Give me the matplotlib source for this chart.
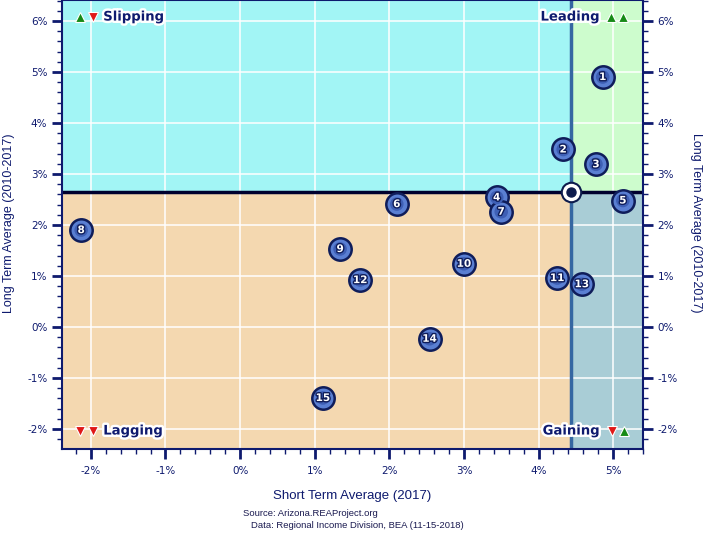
import matplotlib
matplotlib.use("Agg")
import matplotlib.pyplot as plt
import matplotlib.patheffects as pe
from matplotlib.patches import Rectangle
import numpy as np

# county numbers and their growth rates (%)
labels = list(range(1, 16))
short_term = [4.86, 4.33, 4.77, 3.44, 5.13, 2.10, 3.50, -2.13, 1.34, 3.00, 4.25, 1.61, 4.58, 2.54, 1.11]
long_term = [4.90, 3.48, 3.19, 2.54, 2.48, 2.41, 2.26, 1.90, 1.53, 1.24, 0.96, 0.92, 0.84, -0.23, -1.39]

# reference point (state average)
ref_short = 4.43
ref_long = 2.65

x_ticks = [-2, -1, 0, 1, 2, 3, 4, 5]
y_ticks = [-2, -1, 0, 1, 2, 3, 4, 5, 6]

navy = '#0e1a6e'
xmin, xmax = -2.387, 5.40
ymin, ymax = -2.39, 6.41

fig = plt.figure(figsize=(7.03, 5.33), dpi=100)
ax = fig.add_axes([62/703, 84/533, 581/703, 449/533])
ax.set_xlim(xmin, xmax)
ax.set_ylim(ymin, ymax)

# quadrants
ax.add_patch(Rectangle((-10, ref_long), ref_short + 10, 20, color='#a2f5f5', zorder=0))
ax.add_patch(Rectangle((ref_short, ref_long), 20, 20, color='#cdfccd', zorder=0))
ax.add_patch(Rectangle((-10, -10), ref_short + 10, ref_long + 10, color='#f4d8b0', zorder=0))
ax.add_patch(Rectangle((ref_short, -10), 20, ref_long + 10, color='#a9cdd6', zorder=0))

ax.set_xticks(x_ticks)
ax.set_yticks(y_ticks)
ax.set_xticks(np.arange(-2.2, 5.41, 0.2), minor=True)
ax.set_yticks(np.arange(-2.2, 6.41, 0.2), minor=True)
ax.set_xticklabels([f'{v}%' for v in x_ticks])
ax.set_yticklabels([f'{v}%' for v in y_ticks])
ax.grid(True, which='major', color='white', lw=1.1, zorder=1)
ax.set_axisbelow(True)

ax.tick_params(which='major', direction='out', length=7, width=2, color=navy,
               labelcolor=navy, labelsize=7.5, right=True, labelright=True)
ax.tick_params(which='minor', direction='out', length=3.5, width=1, color=navy, right=True)
ax.tick_params(axis='x', pad=5)
for s in ax.spines.values():
    s.set_color(navy)
    s.set_linewidth(1.5)

# dividing lines
ax.axvline(ref_short, color='#3567a2', lw=2.5, zorder=2)
ax.axhline(ref_long, color='#00002e', lw=2.5, zorder=2)
ax.plot([ref_short], [ref_long], 'o', ms=14, mfc='white', mec='#0d1b4c', mew=1.5, zorder=5)
ax.plot([ref_short], [ref_long], 'o', ms=6.5, color='#0d1b4c', zorder=6)

# points
ax.scatter(short_term, long_term, s=260, c='#5a7fd2', edgecolors='#0f1d5a', linewidths=1.8, zorder=7)
ax.scatter(short_term, long_term, s=95, c='#3e5fb5', edgecolors='none', zorder=7)
for n, xv, yv in zip(labels, short_term, long_term):
    ax.text(xv, yv, str(n), ha='center', va='center', color='white', fontsize=7.5,
            fontweight='bold', zorder=8,
            path_effects=[pe.withStroke(linewidth=2, foreground='#0f1d5a')])

# quadrant labels
outline = [pe.withStroke(linewidth=3.5, foreground='white')]
green, red = '#168a16', '#e01818'
def tri(fx, fy, up):
    ax.plot([fx], [fy], '^' if up else 'v', ms=7, color=green if up else red,
            mec='white', mew=0.8, transform=ax.transAxes, zorder=9, clip_on=False)

ax.text(0.071, 0.962, 'Slipping', transform=ax.transAxes, ha='left', va='center',
        fontsize=9.5, fontweight='bold', color=navy, path_effects=outline, zorder=9)
tri(0.031, 0.962, True); tri(0.053, 0.962, False)
ax.text(0.926, 0.962, 'Leading', transform=ax.transAxes, ha='right', va='center',
        fontsize=9.5, fontweight='bold', color=navy, path_effects=outline, zorder=9)
tri(0.945, 0.962, True); tri(0.966, 0.962, True)
ax.text(0.071, 0.040, 'Lagging', transform=ax.transAxes, ha='left', va='center',
        fontsize=9.5, fontweight='bold', color=navy, path_effects=outline, zorder=9)
tri(0.031, 0.040, False); tri(0.053, 0.040, False)
ax.text(0.926, 0.040, 'Gaining', transform=ax.transAxes, ha='right', va='center',
        fontsize=9.5, fontweight='bold', color=navy, path_effects=outline, zorder=9)
tri(0.947, 0.040, False); tri(0.968, 0.040, True)

# axis titles and source
fig.text(352/703, 1 - 496/533, 'Short Term Average (2017)', ha='center', va='center',
         fontsize=9.5, color=navy, family='Liberation Sans')
fig.text(9/703, 1 - 223/533, 'Long Term Average (2010-2017)', ha='center', va='center',
         rotation=90, fontsize=9, color=navy, family='Liberation Sans')
fig.text(696/703, 1 - 223/533, 'Long Term Average (2010-2017)', ha='center', va='center',
         rotation=-90, fontsize=9, color=navy, family='Liberation Sans')
fig.text(243/703, 1 - 514/533, 'Source: Arizona.REAProject.org', ha='left', va='center',
         fontsize=6.8, color='#1a1a50', family='Liberation Sans')
fig.text(251/703, 1 - 525/533, 'Data: Regional Income Division, BEA (11-15-2018)', ha='left',
         va='center', fontsize=6.8, color='#1a1a50', family='Liberation Sans')

fig.savefig('out.png', dpi=100)
